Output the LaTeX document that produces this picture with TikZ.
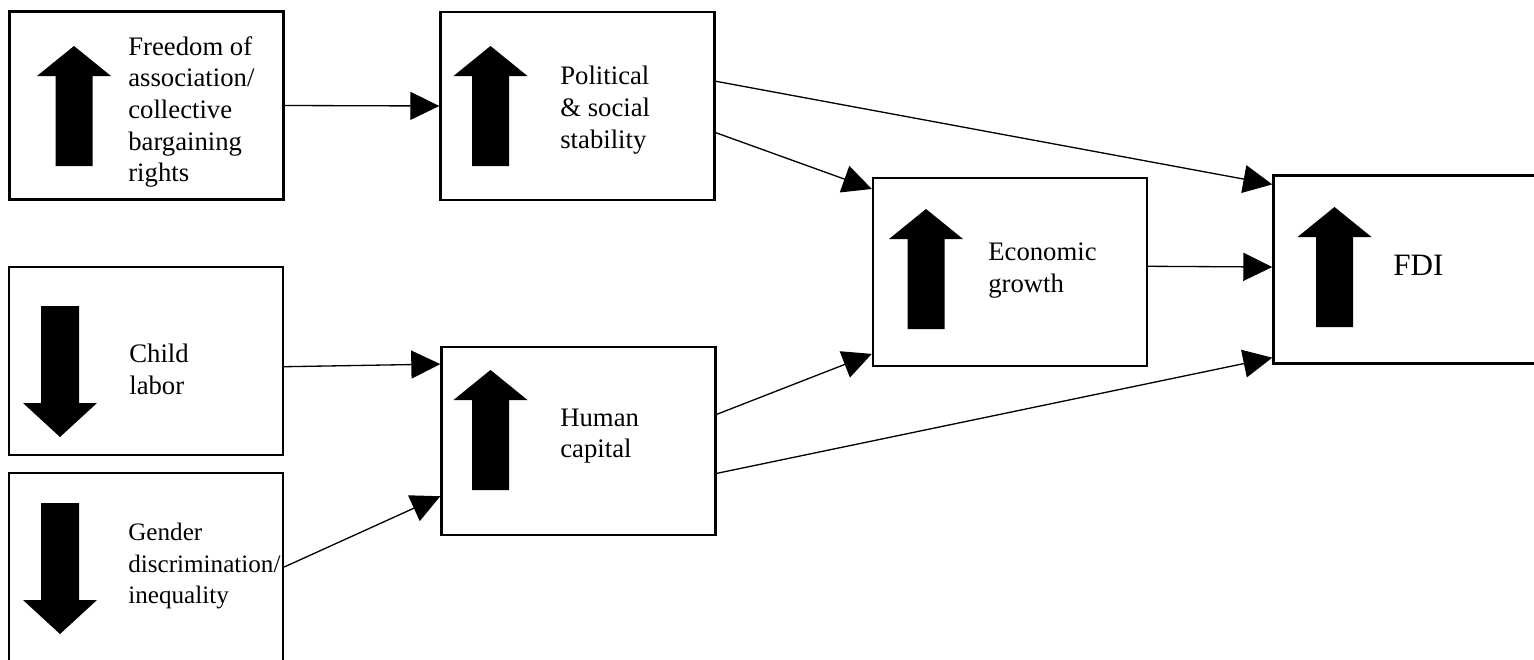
\documentclass[tikz,border=0pt]{standalone}
\usepackage{fontspec}
\setmainfont{Liberation Serif}
\usepackage{tikz}
\usetikzlibrary{arrows.meta,calc}

\begin{document}
\begin{tikzpicture}[
  x=0.02cm, y=-0.02cm,
  card/.style={draw, line width=1.4pt, minimum width=5.48cm,
               minimum height=3.76cm, inner sep=0pt},
  lbl/.style={anchor=west, align=left, inner sep=0pt,
              font=\fontsize{15.2}{18}\selectfont},
  upmark/.pic={\fill (-18.5,0) -- (18.5,0) -- (18.5,-90) -- (37,-90)
                 -- (0,-120) -- (-37,-90) -- (-18.5,-90) -- cycle;},
  downmark/.pic={\fill (-19,0) -- (19,0) -- (19,97) -- (37,97)
                 -- (0,131) -- (-37,97) -- (-19,97) -- cycle;},
  link/.style={line width=0.75pt, -{Triangle[length=0.58cm, width=0.56cm]}}]
  \clip (0,0) rectangle (1534,659);
  % boxes
  \node[card] (free) at (146.5,105.5) {};
  \node[card] (pol)  at (577.5,106) {};
  \node[card] (econ) at (1010,272) {};
  \node[card] (fdi)  at (1410.5,269.5) {};
  \node[card] (child) at (146,361) {};
  \node[card] (gend) at (146,567) {};
  \node[card] (hum)  at (578.5,441) {};
  % up / down marks
  \pic at (74,166) {upmark};
  \pic at (490.5,166) {upmark};
  \pic at (926,329) {upmark};
  \pic at (1334.5,327) {upmark};
  \pic at (490.5,490) {upmark};
  \pic at (60,306) {downmark};
  \pic at (60,503) {downmark};
  % labels
  \node[lbl] (freetxt) at (128,112)
        {Freedom of\\association/\\collective\\bargaining\\rights};
  \node[lbl] (poltxt) at (560,110) {Political\\\& social\\stability};
  \node[lbl] (econtxt) at (988,270.5) {Economic\\growth};
  \node[lbl, font=\fontsize{17.7}{21}\selectfont] (fditxt) at (1393,265.5) {FDI};
  \node[lbl] (childtxt) at (129,369.5) {Child\\labor};
  \node[lbl, font=\fontsize{14.3}{18}\selectfont] (gendtxt) at (128,566)
        {Gender\\discrimination/\\inequality};
  \node[lbl] (humtxt) at (560,436) {Human\\capital};
  % links
  \draw[link] (free.east) -- (pol.west);
  \draw[link] ($(pol.north east)!0.37!(pol.south east)$)
           -- ($(fdi.north west)!0.053!(fdi.south west)$);
  \draw[link] ($(pol.north east)!0.64!(pol.south east)$)
           -- ($(econ.north west)!0.064!(econ.south west)$);
  \draw[link] ($(child.north east)!0.53!(child.south east)$)
           -- ($(hum.north west)!0.096!(hum.south west)$);
  \draw[link] (gend.east) -- ($(hum.north west)!0.79!(hum.south west)$);
  \draw[link] ($(hum.north east)!0.36!(hum.south east)$)
           -- ($(econ.north west)!0.93!(econ.south west)$);
  \draw[link] ($(hum.north east)!0.67!(hum.south east)$)
           -- ($(fdi.north west)!0.963!(fdi.south west)$);
  \draw[link] ($(econ.north east)!0.47!(econ.south east)$)
           -- ($(fdi.north west)!0.487!(fdi.south west)$);
\end{tikzpicture}
\end{document}
